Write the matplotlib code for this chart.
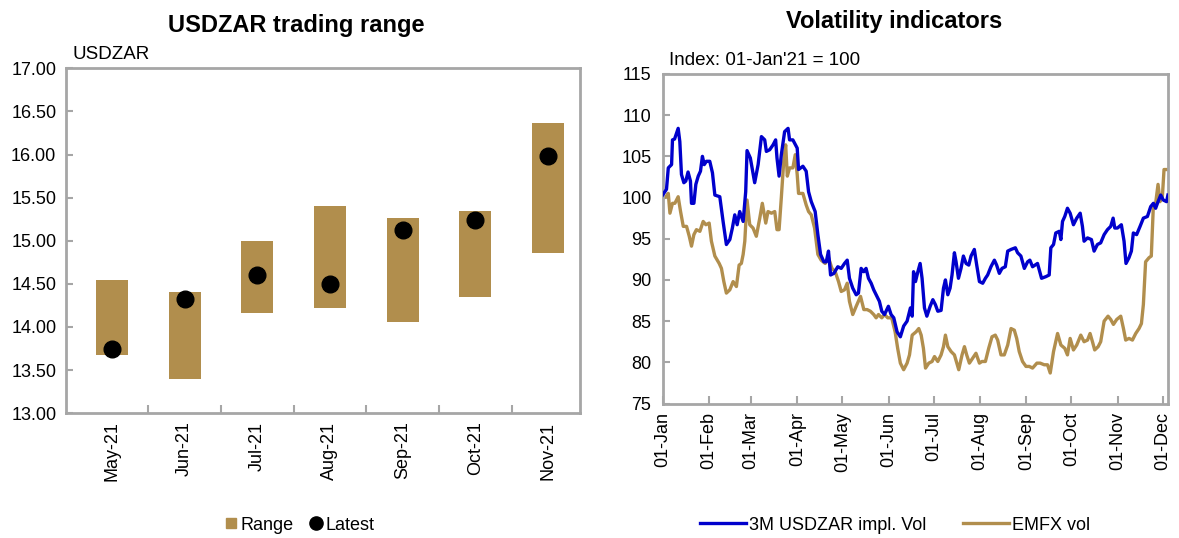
import numpy as np
import pandas as pd
import matplotlib
matplotlib.use('Agg')
import matplotlib.pyplot as plt
import matplotlib.dates as mdates
from matplotlib.lines import Line2D

plt.rcParams['font.family'] = ['Liberation Sans', 'DejaVu Sans']

# --- левый график: диапазон USDZAR по месяцам ---
months = ['May-21', 'Jun-21', 'Jul-21', 'Aug-21', 'Sep-21', 'Oct-21', 'Nov-21']
range_low = [13.67, 13.40, 14.16, 14.22, 14.06, 14.35, 14.86]
range_high = [14.55, 14.41, 15.00, 15.40, 15.26, 15.34, 16.37]
latest = [13.75, 14.32, 14.60, 14.50, 15.12, 15.24, 15.98]

# --- правый график: индексы волатильности (дни от 01-Jan-2021) ---
usdzar_days = [0, 2.6, 3.8, 6, 6.6, 8, 10.4, 11.5, 12.6, 14.2, 15.5, 17, 18.6, 19.3, 20.9,
               22.2, 23.8, 25.3, 26.6, 27.8, 29.3, 31.5, 33.3, 34.9, 38.2, 40.4, 42.6, 44.9,
               46.6, 48.2, 49.8, 51.5, 53.8, 55.5, 56.4, 58.6, 61.5, 63.8, 66, 68.2, 69.3,
               71.5, 73.8, 75.5, 76.4, 77.8, 79.3, 81.5, 83.8, 84.8, 87, 89.9, 90.8, 93.7,
               95.9, 97.5, 99.3, 101.9, 103.7, 105.5, 107.7, 109.3, 110.8, 112.2, 114.4,
               117, 119.3, 121.5, 123.3, 124.8, 127, 129.3, 130.8, 132.6, 134.4, 135.9,
               137.5, 139.3, 141, 142.6, 144.8, 146.4, 148.2, 150.8, 152.6, 154.4, 156.6,
               158.8, 161, 163.3, 165.5, 166.7, 167.6, 168.9, 170.5, 172, 173.3, 174.9,
               176.5, 178.7, 180.5, 182.2, 183.8, 186, 187.6, 188.9, 190.5, 192, 193.3,
               194.9, 196, 197.6, 199.3, 200.9, 202.7, 204.5, 206, 208.2, 209.8, 211.6,
               213.8, 215.6, 217.1, 219.3, 221.6, 223.1, 224.9, 226.7, 228.9, 230.5, 232.7,
               235.6, 237.1, 239.3, 241.6, 243.8, 245.3, 247.1, 250.4, 253.1, 256, 258.2,
               259.3, 261.1, 262.6, 264.9, 266, 267.1, 268.6, 270.4, 272.2, 274.4, 276.6,
               278.9, 280.4, 281.5, 283.8, 286.4, 288.2, 290.4, 292.6, 294.9, 297.1, 299.3,
               300.9, 302, 303.8, 306.4, 308.2, 309.5, 311.5, 313.1, 314.4, 316.6, 318.9,
               321.1, 323.8, 326, 327.8, 329.3, 330.9, 332.7, 334.4, 336.6, 337.5]
usdzar_vol = [100.3, 101.0, 103.6, 104.0, 107.0, 107.1, 108.4, 106.8, 102.8, 101.8, 102.0,
              103.1, 102.0, 99.3, 99.3, 101.6, 102.6, 103.2, 105.0, 104.0, 104.4, 104.4,
              103.0, 100.3, 100.1, 97.1, 94.3, 94.9, 96.3, 97.9, 96.7, 98.3, 97.1, 100.7,
              105.7, 104.8, 101.8, 104.0, 107.4, 107.0, 105.6, 105.8, 106.4, 107.0, 104.8,
              102.6, 105.2, 108.0, 108.4, 107.0, 107.0, 106.0, 103.4, 103.8, 103.2, 100.7,
              99.5, 98.3, 95.5, 93.1, 92.2, 92.2, 93.5, 90.6, 90.8, 91.6, 91.4, 92.0, 92.4,
              90.2, 89.0, 88.2, 88.4, 91.4, 91.0, 91.4, 90.2, 89.6, 88.8, 88.2, 87.4, 86.2,
              85.8, 86.8, 85.8, 85.4, 83.7, 83.1, 84.4, 85.0, 86.6, 85.6, 91.0, 89.8, 91.0,
              92.0, 90.2, 86.6, 85.6, 86.8, 87.6, 87.0, 86.2, 86.3, 89.0, 90.0, 88.2, 89.0,
              90.6, 93.3, 92.2, 90.2, 91.4, 92.9, 92.0, 91.8, 92.9, 93.7, 91.8, 89.8, 89.6,
              90.2, 90.6, 91.6, 92.4, 91.8, 90.8, 91.4, 91.6, 93.5, 93.7, 93.9, 93.3, 92.9,
              91.4, 92.2, 92.4, 91.6, 92.0, 90.2, 90.4, 90.6, 93.9, 94.3, 95.7, 95.9, 94.9,
              97.1, 97.7, 98.7, 98.1, 96.7, 97.5, 98.1, 96.5, 94.7, 95.1, 94.9, 93.5, 94.3,
              94.5, 95.5, 96.1, 96.5, 97.5, 96.3, 96.3, 96.7, 94.7, 92.0, 92.7, 93.5, 95.7,
              95.5, 96.5, 97.5, 97.7, 98.9, 99.3, 98.7, 99.5, 100.3, 99.7, 99.5, 100.3]

emfx_days = [0, 2.2, 3.8, 4.9, 6.6, 8.2, 10.4, 12, 13.8, 16, 17.8, 19.3, 20.9, 22.6, 24.9,
             27.1, 28.9, 31.1, 32.6, 34.9, 37.8, 39.3, 40.9, 42.6, 44.9, 47.1, 49.3, 51.1,
             52.6, 53.8, 54.9, 56.4, 58.2, 60.4, 62.6, 64.9, 66.6, 68.9, 70.4, 72.7, 74.9,
             76.4, 77.8, 79.3, 80.9, 82.2, 83.3, 84.8, 87, 88.6, 89.9, 90.8, 93.7, 95.9,
             97.5, 99.3, 101.5, 103.7, 105.9, 108.6, 110.8, 113.1, 115.3, 117.5, 119.3,
             121.5, 123.3, 124.8, 127, 129.3, 132.2, 134.4, 136.6, 138.8, 141, 142.6, 144.2,
             146.4, 148.2, 150.4, 153, 155.3, 157, 158.8, 161, 163.3, 164.9, 166.7, 169.3,
             171.1, 172.7, 174.2, 175.6, 177.8, 180, 181.6, 183.8, 186, 187.6, 188.9, 190.5,
             192.7, 194.9, 197.8, 200, 201.6, 203.1, 204.9, 207.1, 209.3, 211.6, 213.3,
             215.6, 217.8, 220, 222.2, 223.8, 226, 228.2, 230.5, 232.7, 234.9, 236.5, 238.2,
             240.4, 242.7, 244.9, 247.1, 250, 252.2, 254.9, 257.1, 258.9, 261.1, 263.8, 266,
             268.6, 270.4, 272.2, 274.4, 276.6, 279.3, 281.5, 283.8, 285.5, 287.1, 288.6,
             290.9, 292.6, 294.9, 297.5, 299.3, 301.1, 303.3, 306, 307.8, 309.3, 311.5,
             313.8, 316, 318.2, 319.8, 321.1, 322.6, 324.9, 326.4, 327.8, 329.3, 330.9,
             332.2, 333.8, 334.9, 337.1]
emfx_vol = [99.9, 100.1, 100.5, 98.1, 99.3, 99.3, 100.1, 98.3, 96.5, 96.5, 95.3, 94.1, 95.5,
            96.1, 95.9, 97.1, 96.7, 96.9, 94.7, 92.9, 92.0, 91.4, 89.8, 88.4, 88.8, 89.8,
            89.2, 91.8, 92.0, 93.1, 94.7, 99.7, 96.7, 96.3, 95.3, 97.5, 99.3, 96.9, 98.3,
            98.1, 98.3, 96.1, 96.1, 100.0, 104.4, 106.4, 102.6, 103.6, 103.6, 105.2, 102.8,
            100.5, 100.5, 99.1, 98.3, 97.9, 96.3, 93.1, 92.4, 92.0, 92.7, 91.4, 91.0, 89.8,
            88.6, 88.8, 89.6, 87.4, 85.8, 86.8, 88.0, 86.4, 86.4, 86.2, 85.8, 85.4, 85.8,
            85.4, 85.8, 85.4, 85.4, 83.7, 81.7, 79.9, 79.1, 79.9, 80.9, 83.3, 83.7, 84.1,
            83.3, 81.7, 79.3, 79.9, 80.1, 80.7, 80.1, 80.9, 81.9, 83.3, 81.9, 81.3, 80.9,
            79.1, 80.9, 81.9, 80.9, 79.9, 80.5, 81.1, 79.9, 80.1, 80.1, 81.7, 83.1, 83.3,
            82.7, 80.9, 80.9, 82.1, 84.1, 83.9, 82.9, 81.3, 80.1, 79.5, 79.5, 79.3, 79.9,
            79.9, 79.7, 79.7, 78.7, 81.3, 83.5, 82.1, 81.7, 80.9, 82.9, 81.5, 82.1, 83.3,
            82.5, 82.7, 83.5, 82.5, 81.5, 81.9, 82.5, 85.0, 85.6, 85.2, 84.6, 85.2, 85.6,
            84.1, 82.7, 82.9, 82.7, 83.5, 84.1, 84.7, 87.0, 92.2, 92.7, 92.9, 99.1, 99.3,
            101.6, 99.5, 100.1, 103.4, 103.4]

GOLD = '#B18E4D'
BLUE = '#0000CC'
GREY = '#A6A6A6'

fig = plt.figure(figsize=(11.79, 5.38), dpi=100)

# ЛЕВЫЙ ГРАФИК
ax1 = fig.add_axes([0.056, 0.232, 0.436, 0.641])
x = np.arange(len(months))
ax1.bar(x, np.array(range_high) - np.array(range_low), bottom=range_low, width=0.44,
        color=GOLD, zorder=2)
ax1.plot(x, latest, 'o', color='black', markersize=12, zorder=3)
ax1.set_xlim(-0.63, 6.44)
ax1.set_ylim(13, 17)
ax1.set_yticks(np.arange(13, 17.01, 0.5))
ax1.set_yticklabels([f'{v:.2f}' for v in np.arange(13, 17.01, 0.5)])
ax1.set_xticks(x)
ax1.set_xticklabels(months, rotation=90)
ax1.set_xticks(np.arange(0.5, len(months) - 1, 1), minor=True)
ax1.tick_params(axis='x', which='major', length=0, pad=6, labelsize=13)
ax1.tick_params(axis='x', which='minor', direction='in', length=6, color=GREY, width=1.5)
ax1.tick_params(axis='y', direction='in', length=5, color=GREY, width=1.5, labelsize=13, pad=7)
for s in ax1.spines.values():
    s.set_color(GREY)
    s.set_linewidth(2)
fig.text(296 / 1179, 1 - 32 / 538, 'USDZAR trading range', fontsize=17, fontweight='bold',
         ha='center', va='baseline')
ax1.text(0.012, 1.015, 'USDZAR', transform=ax1.transAxes, fontsize=13.5, ha='left', va='bottom')

h1 = [Line2D([], [], marker='s', color=GOLD, linestyle='none', markersize=7.5),
      Line2D([], [], marker='o', color='black', linestyle='none', markersize=9.5)]
fig.legend(h1, ['Range', 'Latest'], loc='center', bbox_to_anchor=(299 / 1179, 0.024), ncol=2,
           frameon=False, fontsize=13, handlelength=0.8, handletextpad=0.15,
           columnspacing=0.8)

# ПРАВЫЙ ГРАФИК
ax2 = fig.add_axes([0.562, 0.25, 0.4286, 0.6125])
start = pd.Timestamp('2021-01-01')
d_usd = start + pd.to_timedelta(usdzar_days, unit='D')
d_em = start + pd.to_timedelta(emfx_days, unit='D')
ax2.plot(d_usd, usdzar_vol, color=BLUE, linewidth=2.4, label='3M USDZAR impl. Vol', zorder=3)
ax2.plot(d_em, emfx_vol, color=GOLD, linewidth=2.4, label='EMFX vol', zorder=2)
ax2.set_xlim(start, start + pd.Timedelta(days=337.5))
ax2.set_ylim(75, 115)
ax2.set_yticks(np.arange(75, 116, 5))
ax2.xaxis.set_major_locator(mdates.MonthLocator())
ax2.xaxis.set_major_formatter(mdates.DateFormatter('%d-%b'))
plt.setp(ax2.get_xticklabels(), rotation=90)
ax2.tick_params(axis='x', direction='in', length=6, color=GREY, width=1.5, labelsize=13, pad=6)
ax2.tick_params(axis='y', direction='in', length=5, color=GREY, width=1.5, labelsize=13, pad=8)
for s in ax2.spines.values():
    s.set_color(GREY)
    s.set_linewidth(2)
fig.text(894 / 1179, 1 - 28 / 538, 'Volatility indicators', fontsize=17, fontweight='bold',
         ha='center', va='baseline')
ax2.text(0.012, 1.015, "Index: 01-Jan'21 = 100", transform=ax2.transAxes, fontsize=13.5,
         ha='left', va='bottom')
fig.legend(*ax2.get_legend_handles_labels(), loc='center', bbox_to_anchor=(895 / 1179, 0.024),
           ncol=2, frameon=False, fontsize=13, handlelength=2.55, handletextpad=0.2,
           columnspacing=2.0)

plt.savefig('out.png', dpi=100)
